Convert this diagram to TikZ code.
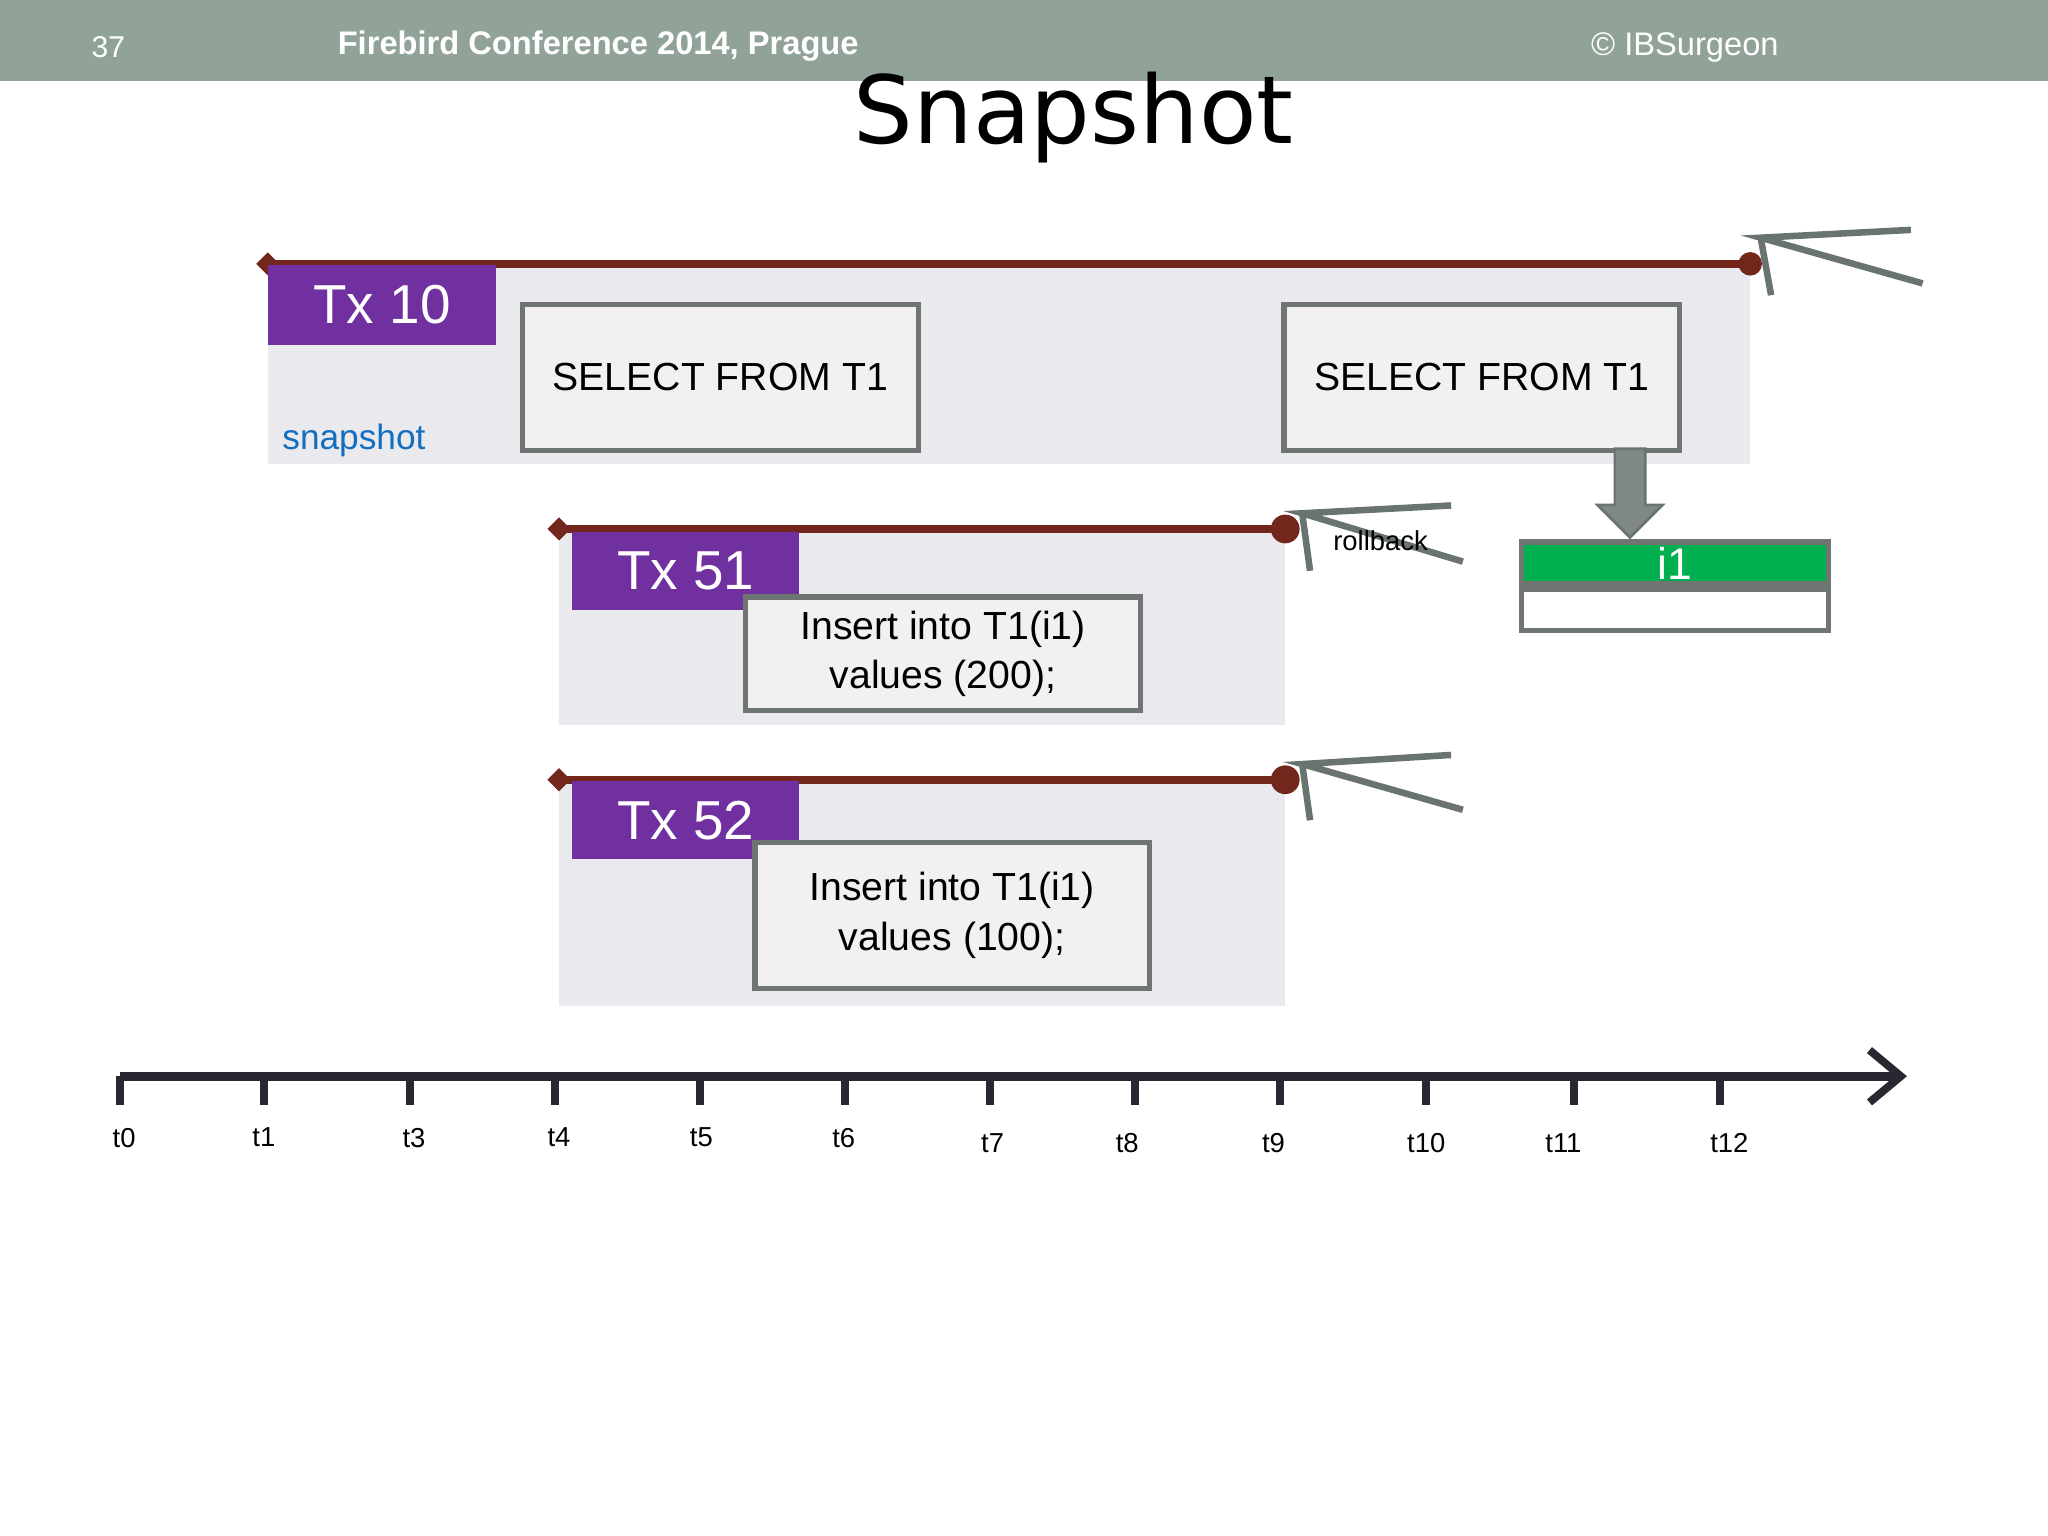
\documentclass[tikz,border=0pt]{standalone}
\usepackage{fontspec}
\setmainfont{Liberation Sans}
\newfontfamily\titlefont{DejaVu Sans}
\usetikzlibrary{arrows.meta,shapes.geometric,shapes.arrows}
\definecolor{hdr}{RGB}{145,163,153}
\definecolor{bgg}{RGB}{233,233,238}
\definecolor{dred}{RGB}{115,38,28}
\definecolor{purp}{RGB}{112,48,160}
\definecolor{boxf}{RGB}{241,241,243}
\definecolor{boxd}{RGB}{110,117,115}
\definecolor{grn}{RGB}{0,176,80}
\definecolor{axis}{RGB}{40,40,50}
\definecolor{chev}{RGB}{105,115,112}
\definecolor{snapblue}{RGB}{20,110,190}
\tikzset{
 bgrect/.style={fill=bgg,draw=none},
 life/.style={draw=dred,line width=3pt},
 txbox/.style={fill=purp,draw=none,text=white,font=\fontsize{21}{24}\selectfont,inner sep=0pt},
 sqlbox/.style={fill=boxf,draw=boxd,line width=2pt,font=\fontsize{15}{19}\selectfont,align=center,inner sep=0pt},
 tick/.style={font=\fontsize{10.5}{12}\selectfont,inner sep=0pt},
 chevl/.style={draw=chev,line width=2.5pt,line join=miter},
}
\begin{document}
\begin{tikzpicture}[x=0.5pt,y=-0.5pt]
\useasboundingbox (0,0) rectangle (1568,1176);
\fill[white] (0,0) rectangle (1568,1176);
% header
\fill[hdr] (0,0) rectangle (1568,62);
\node[text=white,font=\fontsize{11.5}{14}\selectfont] (pg) at (83,36) {37};
\node[text=white,font=\bfseries\fontsize{12.5}{14}\selectfont] (conf) at (458,35) {Firebird Conference 2014, Prague};
\node[text=white,font=\fontsize{12.5}{14}\selectfont] (ibs) at (1290,36) {© IBSurgeon};
\node[font=\titlefont\fontsize{36}{40}\selectfont] (title) at (822,90) {Snapshot};
% Tx10
\fill[bgrect] (205,205) rectangle (1340,355);
\coordinate (s10) at (205,202); \coordinate (e10) at (1340,202);
\draw[life] (s10) -- (e10);
\node[diamond,fill=dred,minimum size=9pt,inner sep=0pt] (d10) at (s10) {};
\node[circle,fill=dred,minimum size=9pt,inner sep=0pt] (c10) at (e10) {};
\node[txbox,minimum width=87.5pt,minimum height=30.5pt] (tx10) at (292.5,233.5) {Tx 10};
\node[text=snapblue,font=\fontsize{13.5}{16}\selectfont] (snap) at (271,337) {snapshot};
\node[sqlbox,minimum width=151.5pt,minimum height=56pt] (sel1) at (551.5,289) {SELECT FROM T1};
\node[sqlbox,minimum width=151.5pt,minimum height=56pt] (sel2) at (1134.5,289) {SELECT FROM T1};
% i1 record
\node[fill=grn,draw=boxd,line width=2pt,minimum width=117.5pt,minimum height=16pt,inner sep=0pt,text=white,font=\fontsize{17}{19}\selectfont] (i1) at (1282.5,431) {i1};
\node[fill=white,draw=boxd,line width=2pt,minimum width=117.5pt,minimum height=16pt,inner sep=0pt,anchor=north] (i1b) at (i1.south) {};
\node[single arrow,shape border rotate=270,fill=chev!85!white,draw=chev,line width=1pt,minimum height=34pt,minimum width=25pt,single arrow head extend=4pt,inner sep=3pt,anchor=tip] (dn) at (1248,413) {};
% Tx51
\fill[bgrect] (428,407) rectangle (984,555);
\coordinate (s51) at (428,405); \coordinate (e51) at (984,405);
\draw[life] (s51) -- (e51);
\node[diamond,fill=dred,minimum size=9pt,inner sep=0pt] (d51) at (s51) {};
\node[circle,fill=dred,minimum size=11pt,inner sep=0pt] (c51) at (e51) {};
\node[txbox,minimum width=87pt,minimum height=30pt] (tx51) at (525,437) {Tx 51};
\node[sqlbox,minimum width=151pt,minimum height=43.5pt] (ins1) at (722,500.5) {Insert into T1(i1)\\values (200);};
% Tx52
\fill[bgrect] (428,599) rectangle (984,770);
\coordinate (s52) at (428,597); \coordinate (e52) at (984,597);
\draw[life] (s52) -- (e52);
\node[diamond,fill=dred,minimum size=9pt,inner sep=0pt] (d52) at (s52) {};
\node[circle,fill=dred,minimum size=11pt,inner sep=0pt] (c52) at (e52) {};
\node[txbox,minimum width=87pt,minimum height=30pt] (tx52) at (525,628) {Tx 52};
\node[sqlbox,minimum width=151pt,minimum height=56pt] (ins2) at (729,701) {Insert into T1(i1)\\values (100);};
% chevrons
\coordinate (a1) at (1348,182);
\draw[chevl] (1463,176) -- (a1) -- (1472,217); \draw[chevl] (a1) -- (1356,226);
\coordinate (a2) at (997,393);
\draw[chevl] (1111,387) -- (a2) -- (1120,430); \draw[chevl] (a2) -- (1003,437);
\node[font=\fontsize{10.5}{12}\selectfont] (rb) at (1057,414) {rollback};
\coordinate (a3) at (997,585);
\draw[chevl] (1111,578) -- (a3) -- (1120,620); \draw[chevl] (a3) -- (1003,628);
% timeline
\coordinate (ax0) at (92,824); \coordinate (ax1) at (1460,824);
\draw[draw=axis,line width=3.5pt,-{Straight Barb[length=12pt,width=20pt,line width=3pt]}] (ax0) -- (ax1);
\foreach \x/\lx/\ly/\t [count=\i] in {92/95/871/t0,202/202/871/t1,314/317/871/t3,425/428/871/t4,536/537/871/t5,647/646/871/t6,758/760/875/t7,869/863/875/t8,980/975/875/t9,1092/1092/875/t10,1205/1197/875/t11,1317/1324/875/t12}{
  \coordinate (tk\i) at (\x,824);
  \draw[axis,line width=3pt] (tk\i) -- ++(0,22);
  \node[tick] (lab\i) at (\lx,\ly) {\t};
}
\end{tikzpicture}
\end{document}
